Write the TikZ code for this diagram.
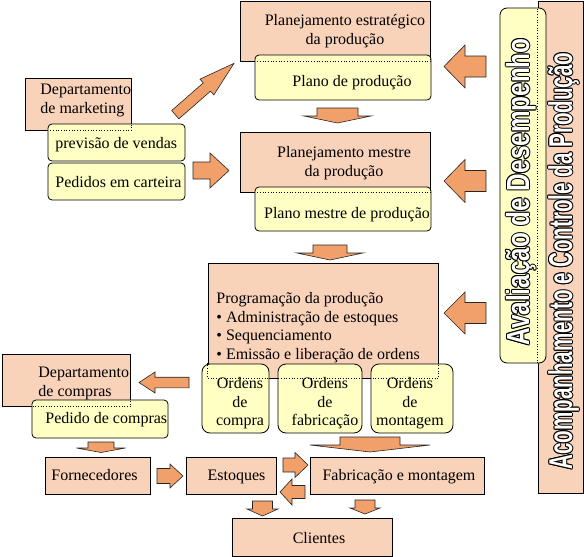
\documentclass[tikz,border=0pt]{standalone}
\usepackage{fontspec}
\setmainfont{Liberation Serif}
\setsansfont{Liberation Sans}
\usetikzlibrary{calc}
\definecolor{salmon}{HTML}{F9D2BA}
\definecolor{cream}{HTML}{FFFFC4}
\definecolor{rust}{HTML}{F2A06A}
% block arrow: tail, angle, length, shaft half width, head half width, head length
\newcommand{\blockarr}[6]{%
  \draw[barrow,shift={#1},rotate=#2] (0,-#4) -- (#3-#6,-#4) -- (#3-#6,-#5) -- (#3,0)
    -- (#3-#6,#5) -- (#3-#6,#4) -- (0,#4) -- cycle;}

\begin{document}
\begin{tikzpicture}[x=1pt,y=-1pt,line width=0.8pt,
    salbox/.style={draw,fill=salmon,inner sep=0pt},
    yelbox/.style={draw,fill=cream,rounded corners=4pt,inner sep=0pt},
    barrow/.style={draw=black!85,fill=rust,line width=0.6pt},
    txt/.style={inner sep=0pt,font=\fontsize{16}{18.5}\selectfont},
    vtext/.style={inner sep=0pt,rotate=90,anchor=base west,font=\sffamily\bfseries}]
  \useasboundingbox (0,0) rectangle (584,557);

  % salmon boxes
  \node[salbox,minimum width=190,minimum height=60] (est) at (335,31) {};
  \node[salbox,minimum width=106,minimum height=52] (mkt) at (78,104) {};
  \node[salbox,minimum width=190,minimum height=60] (mestre) at (335,162) {};
  \node[salbox,minimum width=230,minimum height=115] (prog) at (323,320.5) {};
  \node[salbox,minimum width=128,minimum height=52] (compras) at (66,380) {};
  \node[salbox,minimum width=105,minimum height=37] (forn) at (97.5,475.5) {};
  \node[salbox,minimum width=90,minimum height=37] (estq) at (231,475.5) {};
  \node[salbox,minimum width=174,minimum height=37] (fab) at (397,475.5) {};
  \node[salbox,minimum width=160,minimum height=38] (cli) at (312,537) {};
  \node[salbox,minimum width=45,minimum height=492] (acomp) at (560.5,247) {};

  % yellow boxes
  \node[yelbox,minimum width=176,minimum height=45] (plano) at (343,77.5) {};
  \node[yelbox,minimum width=137,minimum height=37] (prev) at (116.5,142.5) {};
  \node[yelbox,minimum width=137,minimum height=37] (ped) at (116.5,181.5) {};
  \node[yelbox,minimum width=176,minimum height=44] (pmestre) at (343,209) {};
  \node[yelbox,rounded corners=8pt,minimum width=67,minimum height=69] (ocompra) at (235.5,398.5) {};
  \node[yelbox,rounded corners=8pt,minimum width=84,minimum height=69] (ofab) at (320,398.5) {};
  \node[yelbox,rounded corners=8pt,minimum width=82,minimum height=69] (omont) at (412,398.5) {};
  \node[yelbox,minimum width=136,minimum height=38] (pcompras) at (100,419) {};
  \node[yelbox,rounded corners=7pt,minimum width=46,minimum height=355] (aval) at (523,185.5) {};

  % hidden edges under the yellow boxes
  \foreach \s/\u in {est/plano,mkt/prev,mestre/pmestre,prog/ocompra,prog/ofab,prog/omont,compras/pcompras,acomp/aval}{
    \begin{scope}
      \clip (\u.north west) rectangle (\u.south east);
      \draw[dotted,line width=0.7pt] (\s.north west) rectangle (\s.south east);
    \end{scope}
  }

  % texts
  \node[txt,anchor=north,align=center] (est-t) at (345,14) {Planejamento estratégico\\da produção};
  \node[txt,anchor=base] (plano-t) at (352,86) {Plano de produção};
  \node[txt,anchor=north west,align=left] (mkt-t) at (40,84) {Departamento\\de marketing};
  \node[txt,anchor=base west] (prev-t) at (55,148) {previsão de vendas};
  \node[txt,anchor=base west] (ped-t) at (55,187) {Pedidos em carteira};
  \node[txt,anchor=north,align=center] (mestre-t) at (344,146) {Planejamento mestre\\da produção};
  \node[txt,anchor=base] (pmestre-t) at (347,218) {Plano mestre de produção};
  \node[txt,anchor=north west,align=left] (prog-t) at (216,292) {Programação da produção\\\textbullet~Administração de estoques\\\textbullet~Sequenciamento\\\textbullet~Emissão e liberação de ordens};
  \node[txt,anchor=north,align=center] (ocompra-t) at (240,377) {Ordens\\de\\compra};
  \node[txt,anchor=north,align=center] (ofab-t) at (325,377) {Ordens\\de\\fabricação};
  \node[txt,anchor=north,align=center] (omont-t) at (410,377) {Ordens\\de\\montagem};
  \node[txt,anchor=north west,align=left] (compras-t) at (38,367) {Departamento\\de compras};
  \node[txt,anchor=base west] (pcompras-t) at (45,423) {Pedido de compras};
  \node[txt,anchor=base] (forn-t) at (94.5,480) {Fornecedores};
  \node[txt,anchor=base] (estq-t) at (236.5,480) {Estoques};
  \node[txt,anchor=base] (fab-t) at (399,480) {Fabricação e montagem};
  \node[txt,anchor=base] (cli-t) at (319,543) {Clientes};

  % vertical outlined titles
  \foreach \a in {0,45,...,315}{
    \node[vtext] (ava-\a) at ($(529,346)+(\a:1)$) {\fontsize{32}{32}\selectfont\scalebox{0.76}[1]{Avaliação de Desempenho}};
    \node[vtext] (aco-\a) at ($(572,470)+(\a:1)$) {\fontsize{33}{33}\selectfont\scalebox{0.623}[1]{Acompanhamento e Controle da Produção}};
  }
  \node[vtext,text=white] (ava) at (529,346) {\fontsize{32}{32}\selectfont\scalebox{0.76}[1]{Avaliação de Desempenho}};
  \node[vtext,text=white] (aco) at (572,470) {\fontsize{33}{33}\selectfont\scalebox{0.623}[1]{Acompanhamento e Controle da Produção}};

  % block arrows
  \blockarr{(486,66.5)}{180}{42}{10.5}{21.5}{21}
  \blockarr{(486,181)}{180}{42}{10.5}{21.5}{21}
  \blockarr{(486,313)}{180}{42}{10.5}{21}{21}
  \blockarr{(175.3,114.7)}{41.2}{78}{5.5}{10.5}{36}
  \blockarr{(193,170.5)}{0}{36}{8.5}{17.5}{19}
  \blockarr{(337.5,108)}{-90}{15}{20.5}{33.5}{7}
  \blockarr{(330,245)}{-90}{15}{17}{33}{7}
  \blockarr{(189,382.5)}{180}{50}{5.3}{10.5}{16}
  \blockarr{(101,442)}{-90}{10.5}{13}{24.5}{4.5}
  \blockarr{(157,476)}{0}{26}{7.5}{12}{13}
  \blockarr{(283,465)}{0}{25}{7}{12.5}{13}
  \blockarr{(305,492)}{180}{25}{6.5}{13}{12}
  \blockarr{(370,437)}{-90}{15}{30}{60}{7}
  \blockarr{(365,500)}{-90}{14}{10}{15}{6}
  \blockarr{(262.5,501)}{-90}{15}{10}{15.5}{7}
\end{tikzpicture}
\end{document}
